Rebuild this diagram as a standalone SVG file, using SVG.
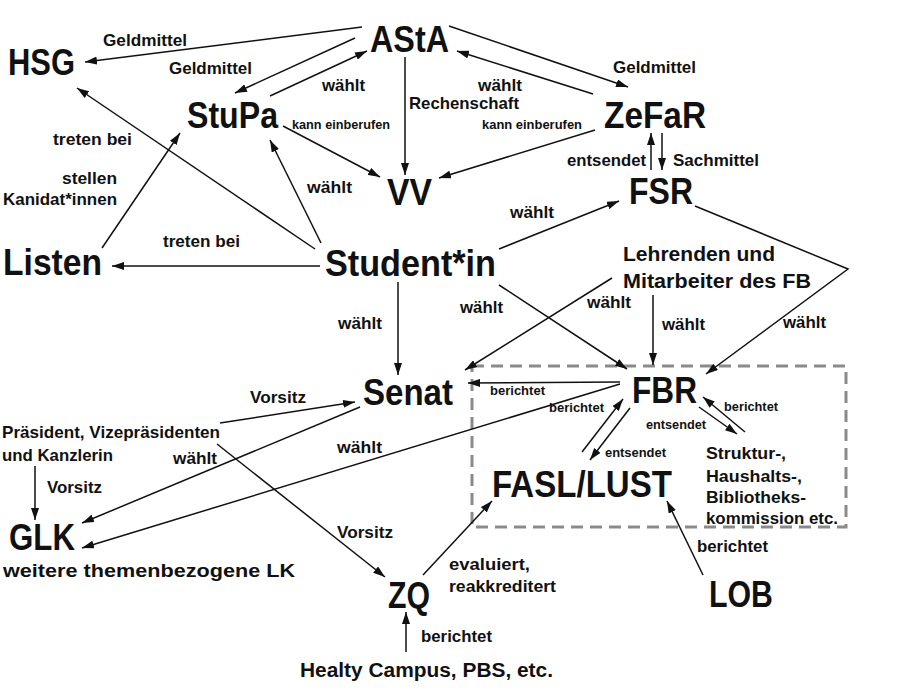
<svg xmlns="http://www.w3.org/2000/svg" width="900" height="700" viewBox="0 0 900 700">
<style>
text{font-family:"Liberation Sans",Arial,sans-serif;font-weight:bold;fill:#111}
.n{font-size:36px}
.m{font-size:17px}
.s{font-size:13px}
.l{font-size:20px}
.c{stroke:#111;stroke-width:1.5;fill:none;marker-end:url(#ah)}
.box{stroke:#8a8a8a;stroke-width:3;fill:none;stroke-dasharray:12 7}
</style>
<defs>
<marker id="ah" markerUnits="userSpaceOnUse" markerWidth="12" markerHeight="8" refX="12" refY="4" orient="auto">
<path d="M0,0 L12,4 L0,8 z" fill="#111"/>
</marker>
</defs>
<rect width="900" height="700" fill="#fff"/>
<rect class="box" x="472" y="366" width="374" height="161"/>
<g id="connectors">
<line class="c" x1="362" y1="27" x2="85" y2="62"/>
<line class="c" x1="355" y1="38" x2="235" y2="93"/>
<line class="c" x1="270" y1="96" x2="367" y2="51"/>
<line class="c" x1="405" y1="57" x2="405" y2="175"/>
<line class="c" x1="283" y1="126" x2="380" y2="177"/>
<line class="c" x1="449" y1="26" x2="628" y2="87"/>
<line class="c" x1="593" y1="94" x2="457" y2="51"/>
<line class="c" x1="595" y1="130" x2="439" y2="178"/>
<line class="c" x1="651" y1="170" x2="651" y2="133"/>
<line class="c" x1="662" y1="133" x2="662" y2="170"/>
<line class="c" x1="102" y1="248" x2="180" y2="133"/>
<line class="c" x1="315" y1="249" x2="77" y2="88"/>
<line class="c" x1="321" y1="243" x2="270" y2="140"/>
<line class="c" x1="320" y1="266" x2="112" y2="266"/>
<line class="c" x1="499" y1="249" x2="619" y2="201"/>
<line class="c" x1="398" y1="282" x2="398" y2="375"/>
<line class="c" x1="499" y1="285" x2="627" y2="369"/>
<line class="c" x1="612" y1="278" x2="465" y2="370"/>
<line class="c" x1="653" y1="295" x2="653" y2="365"/>
<polyline class="c" points="695,206 848,269 706,374"/>
<line class="c" x1="620" y1="382" x2="468" y2="383"/>
<line class="c" x1="620" y1="384" x2="82" y2="548"/>
<line class="c" x1="360" y1="407" x2="82" y2="523"/>
<line class="c" x1="220" y1="423" x2="355" y2="402"/>
<line class="c" x1="35" y1="466" x2="35" y2="520"/>
<line class="c" x1="217" y1="444" x2="385" y2="577"/>
<line class="c" x1="582" y1="452" x2="623" y2="399"/>
<line class="c" x1="630" y1="408" x2="590" y2="460"/>
<line class="c" x1="699" y1="407" x2="737" y2="434"/>
<line class="c" x1="745" y1="432" x2="703" y2="397"/>
<line class="c" x1="423" y1="575" x2="492" y2="501"/>
<line class="c" x1="703" y1="575" x2="667" y2="501"/>
<line class="c" x1="406" y1="652" x2="406" y2="612"/>
<text class="m" x="103" y="46" textLength="84" lengthAdjust="spacingAndGlyphs">Geldmittel</text>
<text class="m" x="169" y="74" textLength="83" lengthAdjust="spacingAndGlyphs">Geldmittel</text>
<text class="m" x="322" y="91" textLength="43" lengthAdjust="spacingAndGlyphs">wählt</text>
<text class="m" x="409" y="109" textLength="110" lengthAdjust="spacingAndGlyphs">Rechenschaft</text>
<text class="s" x="292" y="129" textLength="98" lengthAdjust="spacingAndGlyphs">kann einberufen</text>
<text class="m" x="478" y="91" textLength="44" lengthAdjust="spacingAndGlyphs">wählt</text>
<text class="m" x="613" y="73" textLength="83" lengthAdjust="spacingAndGlyphs">Geldmittel</text>
<text class="s" x="482" y="129" textLength="100" lengthAdjust="spacingAndGlyphs">kann einberufen</text>
<text class="m" x="567" y="166" textLength="79" lengthAdjust="spacingAndGlyphs">entsendet</text>
<text class="m" x="673" y="166" textLength="86" lengthAdjust="spacingAndGlyphs">Sachmittel</text>
<text class="m" x="53" y="145" textLength="79" lengthAdjust="spacingAndGlyphs">treten bei</text>
<text class="m" x="62" y="184" textLength="55" lengthAdjust="spacingAndGlyphs">stellen</text>
<text class="m" x="3" y="205" textLength="114" lengthAdjust="spacingAndGlyphs">Kanidat*innen</text>
<text class="m" x="307" y="193" textLength="45" lengthAdjust="spacingAndGlyphs">wählt</text>
<text class="m" x="510" y="218" textLength="44" lengthAdjust="spacingAndGlyphs">wählt</text>
<text class="m" x="163" y="247" textLength="77" lengthAdjust="spacingAndGlyphs">treten bei</text>
<text class="m" x="338" y="329" textLength="44" lengthAdjust="spacingAndGlyphs">wählt</text>
<text class="m" x="460" y="313" textLength="43" lengthAdjust="spacingAndGlyphs">wählt</text>
<text class="m" x="587" y="308" textLength="44" lengthAdjust="spacingAndGlyphs">wählt</text>
<text class="m" x="662" y="330" textLength="43" lengthAdjust="spacingAndGlyphs">wählt</text>
<text class="m" x="783" y="328" textLength="43" lengthAdjust="spacingAndGlyphs">wählt</text>
<text class="m" x="250" y="403" textLength="56" lengthAdjust="spacingAndGlyphs">Vorsitz</text>
<text class="s" x="490" y="395" textLength="55" lengthAdjust="spacingAndGlyphs">berichtet</text>
<text class="s" x="549" y="412" textLength="55" lengthAdjust="spacingAndGlyphs">berichtet</text>
<text class="s" x="646" y="429" textLength="60" lengthAdjust="spacingAndGlyphs">entsendet</text>
<text class="s" x="724" y="411" textLength="54" lengthAdjust="spacingAndGlyphs">berichtet</text>
<text class="s" x="605" y="457" textLength="61" lengthAdjust="spacingAndGlyphs">entsendet</text>
<text class="m" x="337" y="453" textLength="45" lengthAdjust="spacingAndGlyphs">wählt</text>
<text class="m" x="173" y="464" textLength="44" lengthAdjust="spacingAndGlyphs">wählt</text>
<text class="m" x="47" y="493" textLength="55" lengthAdjust="spacingAndGlyphs">Vorsitz</text>
<text class="m" x="337" y="538" textLength="56" lengthAdjust="spacingAndGlyphs">Vorsitz</text>
<text class="m" x="449" y="570" textLength="81" lengthAdjust="spacingAndGlyphs">evaluiert,</text>
<text class="m" x="449" y="592" textLength="107" lengthAdjust="spacingAndGlyphs">reakkreditert</text>
<text class="m" x="697" y="552" textLength="71" lengthAdjust="spacingAndGlyphs">berichtet</text>
<text class="m" x="421" y="642" textLength="71" lengthAdjust="spacingAndGlyphs">berichtet</text>
</g>
<g id="hsg"><text class="n" x="8" y="75" font-size="37" textLength="67" lengthAdjust="spacingAndGlyphs">HSG</text></g>
<g id="asta"><text class="n" x="370" y="52" font-size="35" textLength="79" lengthAdjust="spacingAndGlyphs">AStA</text></g>
<g id="stupa"><text class="n" x="187" y="128" font-size="38" textLength="91" lengthAdjust="spacingAndGlyphs">StuPa</text></g>
<g id="vv"><text class="n" x="387" y="205" font-size="35" textLength="45" lengthAdjust="spacingAndGlyphs">VV</text></g>
<g id="zefar"><text class="n" x="604" y="128" textLength="102" lengthAdjust="spacingAndGlyphs">ZeFaR</text></g>
<g id="fsr"><text class="n" x="629" y="204" textLength="64" lengthAdjust="spacingAndGlyphs">FSR</text></g>
<g id="listen"><text class="n" x="3" y="275" font-size="35" textLength="99" lengthAdjust="spacingAndGlyphs">Listen</text></g>
<g id="student"><text class="n" x="325" y="276" font-size="37" textLength="171" lengthAdjust="spacingAndGlyphs">Student*in</text></g>
<g id="lehrende">
<text class="l" x="623" y="261" textLength="152" lengthAdjust="spacingAndGlyphs">Lehrenden und</text>
<text class="l" x="623" y="288" textLength="188" lengthAdjust="spacingAndGlyphs">Mitarbeiter des FB</text>
</g>
<g id="senat"><text class="n" x="363" y="405" textLength="90" lengthAdjust="spacingAndGlyphs">Senat</text></g>
<g id="fbr"><text class="n" x="632" y="403" font-size="34" textLength="65" lengthAdjust="spacingAndGlyphs">FBR</text></g>
<g id="praesident">
<text class="m" x="2" y="438" textLength="218" lengthAdjust="spacingAndGlyphs">Präsident, Vizepräsidenten</text>
<text class="m" x="2" y="461" textLength="111" lengthAdjust="spacingAndGlyphs">und Kanzlerin</text>
</g>
<g id="fasl"><text class="n" x="492" y="497" font-size="35" textLength="180" lengthAdjust="spacingAndGlyphs">FASL/LUST</text></g>
<g id="kommission">
<text class="m" x="706" y="459" textLength="80" lengthAdjust="spacingAndGlyphs">Struktur-,</text>
<text class="m" x="706" y="482" textLength="96" lengthAdjust="spacingAndGlyphs">Haushalts-,</text>
<text class="m" x="706" y="503" textLength="100" lengthAdjust="spacingAndGlyphs">Bibliotheks-</text>
<text class="m" x="706" y="524" textLength="132" lengthAdjust="spacingAndGlyphs">kommission etc.</text>
</g>
<g id="glk">
<text class="n" x="9" y="550" font-size="33" textLength="66" lengthAdjust="spacingAndGlyphs">GLK</text>
<text x="3" y="577" font-size="19" textLength="292" lengthAdjust="spacingAndGlyphs">weitere themenbezogene LK</text>
</g>
<g id="zq"><text class="n" x="388" y="608" font-size="35" textLength="42" lengthAdjust="spacingAndGlyphs">ZQ</text></g>
<g id="lob"><text class="n" x="709" y="607" font-size="34" textLength="64" lengthAdjust="spacingAndGlyphs">LOB</text></g>
<g id="healty"><text class="l" x="300" y="677" textLength="253" lengthAdjust="spacingAndGlyphs">Healty Campus, PBS, etc.</text></g>
</svg>
